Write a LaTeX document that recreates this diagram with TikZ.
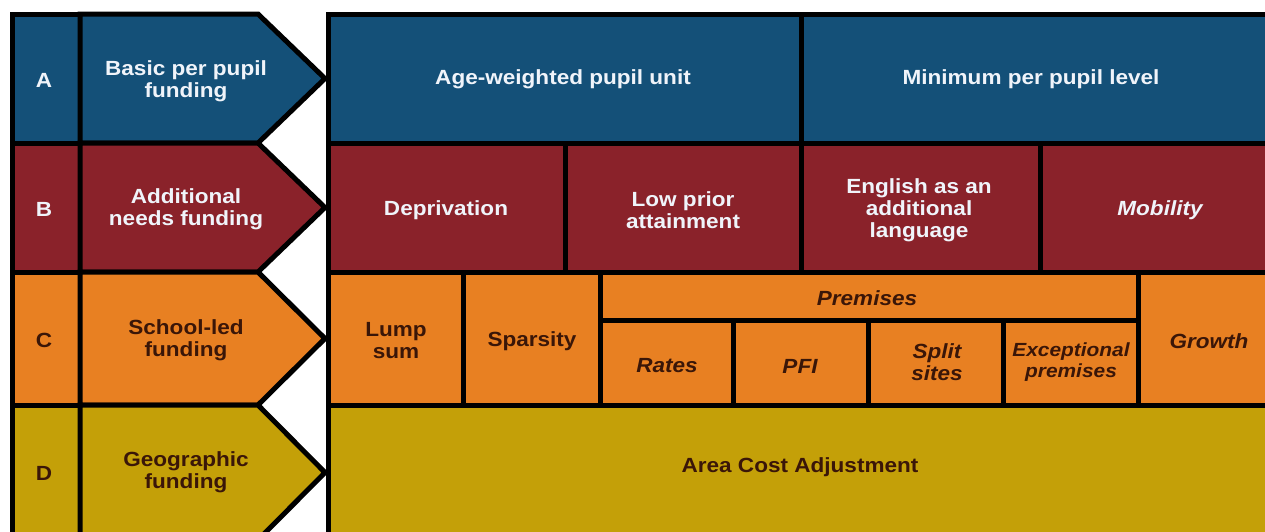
\documentclass[tikz,border=0pt]{standalone}
\usepackage{fontspec}
\setmainfont{Liberation Sans}[FakeStretch=1.1]

\definecolor{fundblue}{RGB}{20,80,120}
\definecolor{fundred}{RGB}{138,34,42}
\definecolor{fundorange}{RGB}{232,128,34}
\definecolor{fundgold}{RGB}{196,160,8}
\definecolor{txtdark}{RGB}{58,22,8}
\definecolor{txtlight}{RGB}{240,244,250}

\begin{document}
\begin{tikzpicture}[x=1pt,y=-1pt,
	cell/.style={draw=black,line width=5pt,line join=miter},
	lab/.style={align=center,inner sep=0pt,font=\bfseries\fontsize{20.5}{22}\selectfont},
	light/.style={lab,text=txtlight},
	dark/.style={lab,text=txtdark},
	ital/.style={font=\bfseries\itshape\fontsize{20.5}{22}\selectfont},
	small/.style={font=\bfseries\itshape\fontsize{19}{21}\selectfont}]

	\useasboundingbox (0,0) rectangle (1265,531);
	\clip (0,0) rectangle (1265,531);

	% letter column and arrows
	\foreach \top/\bot/\col in {14/143/fundblue,143/272/fundred,272/405/fundorange,405/540/fundgold}{
		\draw[cell,fill=\col] (12,\top) rectangle (80,\bot);
		\draw[cell,fill=\col] (80,\top) -- (258,\top) -- (325,{(\top+\bot)/2})
			-- (258,\bot) -- (80,\bot) -- cycle;
	}

	\node[light] (A)  at (44,80)  {A};
	\node[light] (B)  at (44,209) {B};
	\node[dark]  (C)  at (44,340) {C};
	\node[dark]  (D)  at (44,473) {D};

	\node[light] (basic) at (186,81)  {Basic per pupil\\funding};
	\node[light] (addn)  at (186,209) {Additional\\needs funding};
	\node[dark]  (slf)   at (186,340) {School-led\\funding};
	\node[dark]  (geo)   at (186,472) {Geographic\\funding};

	% row A
	\draw[cell,fill=fundblue] (328,14) rectangle (801,143);
	\draw[cell,fill=fundblue] (801,14) rectangle (1278,143);
	\node[light] (awpu) at (563,79)  {Age-weighted pupil unit};
	\node[light] (mppl) at (1031,79) {Minimum per pupil level};

	% row B
	\draw[cell,fill=fundred] (328,143) rectangle (565,272);
	\draw[cell,fill=fundred] (565,143) rectangle (801,272);
	\draw[cell,fill=fundred] (801,143) rectangle (1040,272);
	\draw[cell,fill=fundred] (1040,143) rectangle (1278,272);
	\node[light] (depr) at (446,210) {Deprivation};
	\node[light] (lpa)  at (683,210) {Low prior\\attainment};
	\node[light] (eal)  at (919,210) {English as an\\additional\\language};
	\node[light,ital] (mob) at (1160,210) {Mobility};

	% row C
	\draw[cell,fill=fundorange] (328,272) rectangle (463,405);
	\draw[cell,fill=fundorange] (463,272) rectangle (600,405);
	\draw[cell,fill=fundorange] (600,272) rectangle (1138,320);
	\draw[cell,fill=fundorange] (600,320) rectangle (733,405);
	\draw[cell,fill=fundorange] (733,320) rectangle (868,405);
	\draw[cell,fill=fundorange] (868,320) rectangle (1003,405);
	\draw[cell,fill=fundorange] (1003,320) rectangle (1138,405);
	\draw[cell,fill=fundorange] (1138,272) rectangle (1278,405);
	\node[dark] (lump)  at (396,341) {Lump\\sum};
	\node[dark] (spars) at (532,341) {Sparsity};
	\node[dark,ital] (prem)  at (867,298) {Premises};
	\node[dark,ital] (rates) at (667,366) {Rates};
	\node[dark,ital] (pfi)   at (800,366) {PFI};
	\node[dark,ital] (split) at (937,362) {Split\\sites};
	\node[dark,small] (excp) at (1071,362) {Exceptional\\premises};
	\node[dark,ital] (grow)  at (1209,341) {Growth};

	% row D
	\draw[cell,fill=fundgold] (328,405) rectangle (1278,540);
	\node[dark] (aca) at (800,467) {Area Cost Adjustment};

\end{tikzpicture}
\end{document}
